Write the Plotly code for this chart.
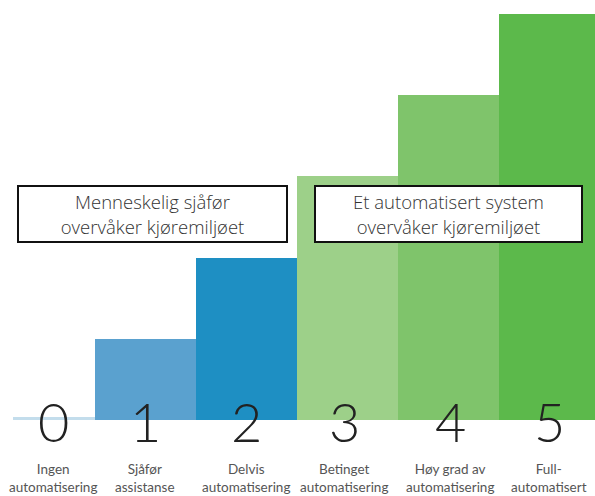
import plotly.graph_objects as go

levels = [0, 1, 2, 3, 4, 5]
heights = [0.04, 1, 2, 3, 4, 5]
digits = ["0", "1", "2", "3", "4", "5"]
labels = [
    "Ingen<br>automatisering",
    "Sjåfør<br>assistanse",
    "Delvis<br>automatisering",
    "Betinget<br>automatisering",
    "Høy grad av<br>automatisering",
    "Full-<br>automatisert",
]
box_texts = [
    "Menneskelig sjåfør<br>overvåker kjøremiljøet",
    "Et automatisert system<br>overvåker kjøremiljøet",
]

colors = ["#c3ddec", "#5aa1cf", "#1e8fc3", "#9dd089", "#7fc46b", "#5cb94b"]
widths = [0.81, 1, 1, 1, 1, 1]
offsets = [-0.31, -0.5, -0.5, -0.5, -0.5, -0.5]

fig = go.Figure()
fig.add_trace(go.Bar(
    x=levels, y=heights, width=widths, offset=offsets,
    marker=dict(color=colors, line=dict(width=0)),
    hoverinfo="skip", showlegend=False,
))

# digits
label_x = [0.09, 1, 2, 2.97, 4.02, 5.0]
for lx, d in zip(label_x, digits):
    fig.add_annotation(x=lx, y=0.0, text=d, showarrow=False,
                       font=dict(family="Lato", size=54, color="#222222", weight=300),
                       xanchor="center", yanchor="middle", yshift=-2)
for lx, t in zip(label_x, labels):
    fig.add_annotation(x=lx, y=-0.7, text=t, showarrow=False,
                       font=dict(family="Lato", size=13.5, color="#555555"),
                       xanchor="center", yanchor="middle", yshift=-1)

# boxes
for bx, t, w in [(1.07, box_texts[0], 267), (4.005, box_texts[1], 265)]:
    fig.add_annotation(x=bx, y=2.54, text=t, showarrow=False,
                       font=dict(family="Open Sans", size=18.5, color="#333333", weight=300),
                       bgcolor="white", bordercolor="#111111", borderwidth=2,
                       width=267 if w == 267 else 265, height=54, borderpad=0, align="center")

fig.update_layout(
    width=595, height=496,
    margin=dict(l=0, r=0, t=0, b=0),
    paper_bgcolor="white", plot_bgcolor="white",
    bargap=0,
    xaxis=dict(range=[-0.436, 5.455], visible=False, fixedrange=True),
    yaxis=dict(range=[-0.936, 5.172], visible=False, fixedrange=True),
)

fig.write_html("out.html")
